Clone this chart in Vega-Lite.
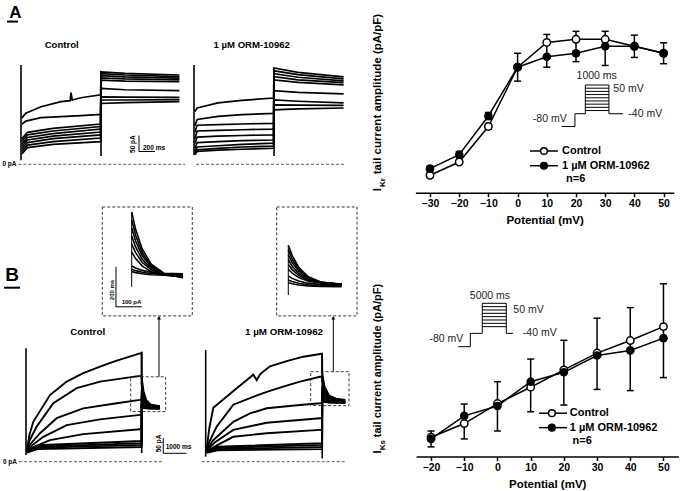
{
"$schema": "https://vega.github.io/schema/vega-lite/v6.json",
"width": 682, "height": 491, "autosize": {"type": "none"}, "padding": 0, "background": "white",
"config": {
  "view": {"stroke": null},
  "font": "Liberation Sans",
  "axis": {"domainColor": "black", "domainWidth": 1.5, "tickColor": "black", "tickWidth": 1.5, "tickSize": 4, "labelFont": "Liberation Sans", "labelFontWeight": "bold", "labelFontSize": 10.5, "labelColor": "black", "labelPadding": 2, "labelFlush": false, "labelOverlap": false, "titleFont": "Liberation Sans", "titleFontWeight": "bold", "titleFontSize": 11.5, "titleColor": "black", "titlePadding": 4, "grid": false}
},
"resolve": {"scale": {"x": "independent", "y": "independent"}},
"datasets": {
  "ptsA": [
    {"x": -30, "y": 0.05, "g": "c"}, {"x": -20, "y": 0.088, "g": "c"}, {"x": -10, "y": 0.19, "g": "c"}, {"x": 0, "y": 0.36, "g": "c"}, {"x": 10, "y": 0.431, "g": "c"}, {"x": 20, "y": 0.44, "g": "c"}, {"x": 30, "y": 0.44, "g": "c"}, {"x": 40, "y": 0.42, "g": "c"}, {"x": 50, "y": 0.40, "g": "c"},
    {"x": -30, "y": 0.069, "g": "o"}, {"x": -20, "y": 0.109, "g": "o"}, {"x": -10, "y": 0.22, "g": "o"}, {"x": 0, "y": 0.36, "g": "o"}, {"x": 10, "y": 0.39, "g": "o"}, {"x": 20, "y": 0.40, "g": "o"}, {"x": 30, "y": 0.42, "g": "o"}, {"x": 40, "y": 0.42, "g": "o"}, {"x": 50, "y": 0.40, "g": "o"}
  ],
  "errA": [
    {"x": -30, "y": 0.045, "y2": 0.055}, {"x": -30, "y": 0.062, "y2": 0.076}, {"x": -20, "y": 0.083, "y2": 0.093}, {"x": -20, "y": 0.1, "y2": 0.118}, {"x": -10, "y": 0.182, "y2": 0.198}, {"x": -10, "y": 0.21, "y2": 0.23}, {"x": 0, "y": 0.32, "y2": 0.40}, {"x": 10, "y": 0.36, "y2": 0.454}, {"x": 20, "y": 0.376, "y2": 0.463}, {"x": 30, "y": 0.365, "y2": 0.463}, {"x": 40, "y": 0.388, "y2": 0.452}, {"x": 50, "y": 0.37, "y2": 0.43}
  ],
  "ptsB": [
    {"x": -20, "y": 0.08, "g": "c"}, {"x": -10, "y": 0.137, "g": "c"}, {"x": 0, "y": 0.22, "g": "c"}, {"x": 10, "y": 0.288, "g": "c"}, {"x": 20, "y": 0.36, "g": "c"}, {"x": 30, "y": 0.43, "g": "c"}, {"x": 40, "y": 0.482, "g": "c"}, {"x": 50, "y": 0.54, "g": "c"},
    {"x": -20, "y": 0.073, "g": "o"}, {"x": -10, "y": 0.169, "g": "o"}, {"x": 0, "y": 0.21, "g": "o"}, {"x": 10, "y": 0.311, "g": "o"}, {"x": 20, "y": 0.35, "g": "o"}, {"x": 30, "y": 0.42, "g": "o"}, {"x": 40, "y": 0.441, "g": "o"}, {"x": 50, "y": 0.492, "g": "o"}
  ],
  "errB": [
    {"x": -20, "y": 0.04, "y2": 0.106}, {"x": -10, "y": 0.073, "y2": 0.218}, {"x": 0, "y": 0.106, "y2": 0.311}, {"x": 10, "y": 0.186, "y2": 0.405}, {"x": 20, "y": 0.214, "y2": 0.483}, {"x": 30, "y": 0.279, "y2": 0.575}, {"x": 40, "y": 0.274, "y2": 0.619}, {"x": 50, "y": 0.328, "y2": 0.718}
  ],
  "trAc": [
    {"s": 1, "t": 10, "i": 145}, {"s": 1, "t": 60, "i": 160}, {"s": 1, "t": 250, "i": 180}, {"s": 1, "t": 500, "i": 196}, {"s": 1, "t": 615, "i": 199}, {"s": 1, "t": 625, "i": 224}, {"s": 1, "t": 640, "i": 201}, {"s": 1, "t": 750, "i": 208}, {"s": 1, "t": 995, "i": 217}, {"s": 1, "t": 1000, "i": 289}, {"s": 1, "t": 1300, "i": 284}, {"s": 1, "t": 1980, "i": 279},
    {"s": 2, "t": 10, "i": 125}, {"s": 2, "t": 60, "i": 135}, {"s": 2, "t": 250, "i": 146}, {"s": 2, "t": 500, "i": 149}, {"s": 2, "t": 750, "i": 152}, {"s": 2, "t": 995, "i": 156}, {"s": 2, "t": 1000, "i": 283}, {"s": 2, "t": 1300, "i": 279}, {"s": 2, "t": 1980, "i": 274},
    {"s": 3, "t": 10, "i": 80}, {"s": 3, "t": 80, "i": 100}, {"s": 3, "t": 400, "i": 112}, {"s": 3, "t": 995, "i": 126}, {"s": 3, "t": 1000, "i": 277}, {"s": 3, "t": 1300, "i": 273}, {"s": 3, "t": 1980, "i": 269},
    {"s": 4, "t": 10, "i": 72}, {"s": 4, "t": 80, "i": 92}, {"s": 4, "t": 400, "i": 104}, {"s": 4, "t": 995, "i": 118}, {"s": 4, "t": 1000, "i": 270}, {"s": 4, "t": 1300, "i": 267}, {"s": 4, "t": 1980, "i": 264},
    {"s": 5, "t": 10, "i": 64}, {"s": 5, "t": 80, "i": 84}, {"s": 5, "t": 400, "i": 96}, {"s": 5, "t": 995, "i": 110}, {"s": 5, "t": 1000, "i": 263}, {"s": 5, "t": 1300, "i": 260}, {"s": 5, "t": 1980, "i": 258},
    {"s": 6, "t": 10, "i": 56}, {"s": 6, "t": 80, "i": 76}, {"s": 6, "t": 400, "i": 88}, {"s": 6, "t": 995, "i": 101}, {"s": 6, "t": 1000, "i": 237}, {"s": 6, "t": 1300, "i": 233}, {"s": 6, "t": 1980, "i": 230},
    {"s": 7, "t": 10, "i": 48}, {"s": 7, "t": 80, "i": 68}, {"s": 7, "t": 400, "i": 80}, {"s": 7, "t": 995, "i": 92}, {"s": 7, "t": 1000, "i": 211}, {"s": 7, "t": 1300, "i": 210}, {"s": 7, "t": 1980, "i": 209},
    {"s": 8, "t": 10, "i": 40}, {"s": 8, "t": 80, "i": 60}, {"s": 8, "t": 400, "i": 71}, {"s": 8, "t": 995, "i": 82}, {"s": 8, "t": 1000, "i": 201}, {"s": 8, "t": 1300, "i": 201}, {"s": 8, "t": 1980, "i": 202},
    {"s": 9, "t": 10, "i": 32}, {"s": 9, "t": 80, "i": 52}, {"s": 9, "t": 400, "i": 62}, {"s": 9, "t": 995, "i": 71}, {"s": 9, "t": 1000, "i": 190}, {"s": 9, "t": 1300, "i": 193}, {"s": 9, "t": 1980, "i": 196}
  ],
  "trAo": [
    {"s": 1, "t": 10, "i": 165}, {"s": 1, "t": 40, "i": 176}, {"s": 1, "t": 300, "i": 192}, {"s": 1, "t": 600, "i": 200}, {"s": 1, "t": 995, "i": 207}, {"s": 1, "t": 1000, "i": 301}, {"s": 1, "t": 1300, "i": 287}, {"s": 1, "t": 1870, "i": 273},
    {"s": 2, "t": 10, "i": 120}, {"s": 2, "t": 40, "i": 140}, {"s": 2, "t": 300, "i": 150}, {"s": 2, "t": 600, "i": 155}, {"s": 2, "t": 995, "i": 159}, {"s": 2, "t": 1000, "i": 292}, {"s": 2, "t": 1300, "i": 280}, {"s": 2, "t": 1870, "i": 267},
    {"s": 3, "t": 10, "i": 100}, {"s": 3, "t": 40, "i": 122}, {"s": 3, "t": 300, "i": 124}, {"s": 3, "t": 600, "i": 126}, {"s": 3, "t": 995, "i": 128}, {"s": 3, "t": 1000, "i": 283}, {"s": 3, "t": 1300, "i": 272}, {"s": 3, "t": 1870, "i": 261},
    {"s": 4, "t": 10, "i": 80}, {"s": 4, "t": 40, "i": 104}, {"s": 4, "t": 300, "i": 106}, {"s": 4, "t": 600, "i": 108}, {"s": 4, "t": 995, "i": 110}, {"s": 4, "t": 1000, "i": 274}, {"s": 4, "t": 1300, "i": 264}, {"s": 4, "t": 1870, "i": 255},
    {"s": 5, "t": 10, "i": 65}, {"s": 5, "t": 40, "i": 85}, {"s": 5, "t": 300, "i": 88}, {"s": 5, "t": 600, "i": 90}, {"s": 5, "t": 995, "i": 92}, {"s": 5, "t": 1000, "i": 264}, {"s": 5, "t": 1300, "i": 256}, {"s": 5, "t": 1870, "i": 248},
    {"s": 6, "t": 10, "i": 50}, {"s": 6, "t": 40, "i": 68}, {"s": 6, "t": 300, "i": 71}, {"s": 6, "t": 600, "i": 74}, {"s": 6, "t": 995, "i": 76}, {"s": 6, "t": 1000, "i": 230}, {"s": 6, "t": 1300, "i": 225}, {"s": 6, "t": 1870, "i": 220},
    {"s": 7, "t": 10, "i": 40}, {"s": 7, "t": 40, "i": 54}, {"s": 7, "t": 300, "i": 58}, {"s": 7, "t": 600, "i": 62}, {"s": 7, "t": 995, "i": 66}, {"s": 7, "t": 1000, "i": 201}, {"s": 7, "t": 1300, "i": 197}, {"s": 7, "t": 1870, "i": 192},
    {"s": 8, "t": 10, "i": 35}, {"s": 8, "t": 40, "i": 45}, {"s": 8, "t": 300, "i": 50}, {"s": 8, "t": 600, "i": 54}, {"s": 8, "t": 995, "i": 57}, {"s": 8, "t": 1000, "i": 186}, {"s": 8, "t": 1300, "i": 185}, {"s": 8, "t": 1870, "i": 184},
    {"s": 9, "t": 10, "i": 30}, {"s": 9, "t": 40, "i": 40}, {"s": 9, "t": 300, "i": 44}, {"s": 9, "t": 600, "i": 47}, {"s": 9, "t": 995, "i": 50}, {"s": 9, "t": 1000, "i": 170}, {"s": 9, "t": 1300, "i": 173}, {"s": 9, "t": 1870, "i": 176}
  ],
  "trBc": [
    {"s": 1, "t": 43, "i": 40}, {"s": 1, "t": 150, "i": 90}, {"s": 1, "t": 315, "i": 133}, {"s": 1, "t": 1037, "i": 222}, {"s": 1, "t": 1759, "i": 267}, {"s": 1, "t": 2476, "i": 295}, {"s": 1, "t": 3198, "i": 317}, {"s": 1, "t": 3920, "i": 337}, {"s": 1, "t": 4926, "i": 361}, {"s": 1, "t": 4995, "i": 362}, {"s": 1, "t": 5000, "i": 279}, {"s": 1, "t": 5080, "i": 235}, {"s": 1, "t": 5200, "i": 205}, {"s": 1, "t": 5400, "i": 190}, {"s": 1, "t": 5790, "i": 185},
    {"s": 2, "t": 43, "i": 38}, {"s": 2, "t": 150, "i": 70}, {"s": 2, "t": 462, "i": 117}, {"s": 2, "t": 1180, "i": 195}, {"s": 2, "t": 2191, "i": 245}, {"s": 2, "t": 3198, "i": 267}, {"s": 2, "t": 4926, "i": 286}, {"s": 2, "t": 4995, "i": 287}, {"s": 2, "t": 5000, "i": 255}, {"s": 2, "t": 5080, "i": 222}, {"s": 2, "t": 5200, "i": 200}, {"s": 2, "t": 5400, "i": 188}, {"s": 2, "t": 5790, "i": 183},
    {"s": 3, "t": 43, "i": 36}, {"s": 3, "t": 150, "i": 55}, {"s": 3, "t": 605, "i": 95}, {"s": 3, "t": 1325, "i": 145}, {"s": 3, "t": 2476, "i": 178}, {"s": 3, "t": 3920, "i": 195}, {"s": 3, "t": 4926, "i": 206}, {"s": 3, "t": 4995, "i": 207}, {"s": 3, "t": 5000, "i": 235}, {"s": 3, "t": 5080, "i": 212}, {"s": 3, "t": 5200, "i": 196}, {"s": 3, "t": 5400, "i": 186}, {"s": 3, "t": 5790, "i": 182},
    {"s": 4, "t": 43, "i": 35}, {"s": 4, "t": 150, "i": 48}, {"s": 4, "t": 748, "i": 83}, {"s": 4, "t": 1759, "i": 122}, {"s": 4, "t": 3198, "i": 141}, {"s": 4, "t": 4926, "i": 156}, {"s": 4, "t": 4995, "i": 156}, {"s": 4, "t": 5000, "i": 220}, {"s": 4, "t": 5080, "i": 204}, {"s": 4, "t": 5200, "i": 192}, {"s": 4, "t": 5400, "i": 185}, {"s": 4, "t": 5790, "i": 181},
    {"s": 5, "t": 43, "i": 34}, {"s": 5, "t": 200, "i": 45}, {"s": 5, "t": 1037, "i": 72}, {"s": 5, "t": 2476, "i": 92}, {"s": 5, "t": 4926, "i": 108}, {"s": 5, "t": 4995, "i": 108}, {"s": 5, "t": 5000, "i": 205}, {"s": 5, "t": 5100, "i": 195}, {"s": 5, "t": 5300, "i": 186}, {"s": 5, "t": 5790, "i": 180},
    {"s": 6, "t": 43, "i": 33}, {"s": 6, "t": 500, "i": 55}, {"s": 6, "t": 4995, "i": 69}, {"s": 6, "t": 5000, "i": 195}, {"s": 6, "t": 5100, "i": 188}, {"s": 6, "t": 5300, "i": 182}, {"s": 6, "t": 5790, "i": 179},
    {"s": 7, "t": 43, "i": 32}, {"s": 7, "t": 500, "i": 50}, {"s": 7, "t": 4995, "i": 62}, {"s": 7, "t": 5000, "i": 190}, {"s": 7, "t": 5100, "i": 184}, {"s": 7, "t": 5300, "i": 180}, {"s": 7, "t": 5790, "i": 178},
    {"s": 8, "t": 43, "i": 31}, {"s": 8, "t": 500, "i": 46}, {"s": 8, "t": 4995, "i": 56}, {"s": 8, "t": 5000, "i": 186}, {"s": 8, "t": 5100, "i": 181}, {"s": 8, "t": 5300, "i": 178}, {"s": 8, "t": 5790, "i": 177},
    {"s": 9, "t": 43, "i": 30}, {"s": 9, "t": 500, "i": 42}, {"s": 9, "t": 4995, "i": 49}, {"s": 9, "t": 5000, "i": 183}, {"s": 9, "t": 5100, "i": 179}, {"s": 9, "t": 5300, "i": 177}, {"s": 9, "t": 5790, "i": 176}
  ],
  "trBo": [
    {"s": 1, "t": 43, "i": 40}, {"s": 1, "t": 150, "i": 110}, {"s": 1, "t": 326, "i": 180}, {"s": 1, "t": 1330, "i": 245}, {"s": 1, "t": 2043, "i": 290}, {"s": 1, "t": 2190, "i": 272}, {"s": 1, "t": 2350, "i": 293}, {"s": 1, "t": 2760, "i": 318}, {"s": 1, "t": 3476, "i": 335}, {"s": 1, "t": 4189, "i": 350}, {"s": 1, "t": 4979, "i": 360}, {"s": 1, "t": 4995, "i": 360}, {"s": 1, "t": 5000, "i": 295}, {"s": 1, "t": 5100, "i": 250}, {"s": 1, "t": 5300, "i": 220}, {"s": 1, "t": 5600, "i": 210}, {"s": 1, "t": 5990, "i": 206},
    {"s": 2, "t": 43, "i": 38}, {"s": 2, "t": 150, "i": 65}, {"s": 2, "t": 472, "i": 117}, {"s": 2, "t": 1185, "i": 190}, {"s": 2, "t": 1901, "i": 212}, {"s": 2, "t": 2618, "i": 233}, {"s": 2, "t": 3330, "i": 250}, {"s": 2, "t": 4047, "i": 267}, {"s": 2, "t": 4906, "i": 283}, {"s": 2, "t": 4995, "i": 284}, {"s": 2, "t": 5000, "i": 270}, {"s": 2, "t": 5100, "i": 238}, {"s": 2, "t": 5300, "i": 215}, {"s": 2, "t": 5600, "i": 206}, {"s": 2, "t": 5990, "i": 204},
    {"s": 3, "t": 43, "i": 36}, {"s": 3, "t": 300, "i": 70}, {"s": 3, "t": 1185, "i": 133}, {"s": 3, "t": 1901, "i": 161}, {"s": 3, "t": 2618, "i": 178}, {"s": 3, "t": 4047, "i": 189}, {"s": 3, "t": 4906, "i": 195}, {"s": 3, "t": 4995, "i": 196}, {"s": 3, "t": 5000, "i": 250}, {"s": 3, "t": 5100, "i": 228}, {"s": 3, "t": 5300, "i": 210}, {"s": 3, "t": 5600, "i": 203}, {"s": 3, "t": 5990, "i": 202},
    {"s": 4, "t": 43, "i": 35}, {"s": 4, "t": 400, "i": 65}, {"s": 4, "t": 1185, "i": 106}, {"s": 4, "t": 2618, "i": 130}, {"s": 4, "t": 4906, "i": 145}, {"s": 4, "t": 4995, "i": 145}, {"s": 4, "t": 5000, "i": 235}, {"s": 4, "t": 5100, "i": 220}, {"s": 4, "t": 5300, "i": 206}, {"s": 4, "t": 5600, "i": 201}, {"s": 4, "t": 5990, "i": 200},
    {"s": 5, "t": 43, "i": 34}, {"s": 5, "t": 500, "i": 55}, {"s": 5, "t": 1185, "i": 83}, {"s": 5, "t": 2618, "i": 95}, {"s": 5, "t": 4906, "i": 106}, {"s": 5, "t": 4995, "i": 106}, {"s": 5, "t": 5000, "i": 222}, {"s": 5, "t": 5100, "i": 212}, {"s": 5, "t": 5300, "i": 203}, {"s": 5, "t": 5990, "i": 199},
    {"s": 6, "t": 43, "i": 33}, {"s": 6, "t": 500, "i": 50}, {"s": 6, "t": 4995, "i": 62}, {"s": 6, "t": 5000, "i": 212}, {"s": 6, "t": 5100, "i": 205}, {"s": 6, "t": 5300, "i": 200}, {"s": 6, "t": 5990, "i": 198},
    {"s": 7, "t": 43, "i": 32}, {"s": 7, "t": 500, "i": 46}, {"s": 7, "t": 4995, "i": 56}, {"s": 7, "t": 5000, "i": 208}, {"s": 7, "t": 5100, "i": 202}, {"s": 7, "t": 5300, "i": 199}, {"s": 7, "t": 5990, "i": 197},
    {"s": 8, "t": 43, "i": 31}, {"s": 8, "t": 500, "i": 42}, {"s": 8, "t": 4995, "i": 49}, {"s": 8, "t": 5000, "i": 205}, {"s": 8, "t": 5100, "i": 200}, {"s": 8, "t": 5300, "i": 198}, {"s": 8, "t": 5990, "i": 196},
    {"s": 9, "t": 43, "i": 30}, {"s": 9, "t": 500, "i": 38}, {"s": 9, "t": 4995, "i": 42}, {"s": 9, "t": 5000, "i": 203}, {"s": 9, "t": 5100, "i": 199}, {"s": 9, "t": 5300, "i": 197}, {"s": 9, "t": 5990, "i": 196}
  ],
  "inC": [
    {"s": 1, "t": 0, "i": 195}, {"s": 1, "t": 30, "i": 151.6}, {"s": 1, "t": 80, "i": 103.2}, {"s": 1, "t": 150, "i": 64.7}, {"s": 1, "t": 250, "i": 41.4}, {"s": 1, "t": 395, "i": 31.3},
    {"s": 2, "t": 0, "i": 175}, {"s": 2, "t": 30, "i": 136.8}, {"s": 2, "t": 80, "i": 94.2}, {"s": 2, "t": 150, "i": 60.3}, {"s": 2, "t": 250, "i": 39.8}, {"s": 2, "t": 395, "i": 30.9},
    {"s": 3, "t": 0, "i": 155}, {"s": 3, "t": 30, "i": 122.5}, {"s": 3, "t": 80, "i": 86.3}, {"s": 3, "t": 150, "i": 57.5}, {"s": 3, "t": 250, "i": 40}, {"s": 3, "t": 395, "i": 32.5},
    {"s": 4, "t": 0, "i": 135}, {"s": 4, "t": 30, "i": 107.7}, {"s": 4, "t": 80, "i": 77.3}, {"s": 4, "t": 150, "i": 53.1}, {"s": 4, "t": 250, "i": 38.4}, {"s": 4, "t": 395, "i": 32.1},
    {"s": 5, "t": 0, "i": 115}, {"s": 5, "t": 30, "i": 93.4}, {"s": 5, "t": 80, "i": 69.4}, {"s": 5, "t": 150, "i": 50.3}, {"s": 5, "t": 250, "i": 38.6}, {"s": 5, "t": 395, "i": 33.7},
    {"s": 6, "t": 0, "i": 95}, {"s": 6, "t": 30, "i": 78.6}, {"s": 6, "t": 80, "i": 60.4}, {"s": 6, "t": 150, "i": 45.9}, {"s": 6, "t": 250, "i": 37}, {"s": 6, "t": 395, "i": 33.3},
    {"s": 7, "t": 0, "i": 60}, {"s": 7, "t": 30, "i": 54.8}, {"s": 7, "t": 80, "i": 49}, {"s": 7, "t": 150, "i": 44.4}, {"s": 7, "t": 250, "i": 41.6}, {"s": 7, "t": 395, "i": 40.4},
    {"s": 8, "t": 0, "i": 52}, {"s": 8, "t": 30, "i": 48.4}, {"s": 8, "t": 80, "i": 44.3}, {"s": 8, "t": 150, "i": 41.1}, {"s": 8, "t": 250, "i": 39.1}, {"s": 8, "t": 395, "i": 38.3},
    {"s": 9, "t": 0, "i": 46}, {"s": 9, "t": 30, "i": 43.4}, {"s": 9, "t": 80, "i": 40.5}, {"s": 9, "t": 150, "i": 38.2}, {"s": 9, "t": 250, "i": 36.8}, {"s": 9, "t": 395, "i": 36.2}
  ],
  "inO": [
    {"s": 1, "t": 0, "i": 112}, {"s": 1, "t": 30, "i": 86}, {"s": 1, "t": 80, "i": 57}, {"s": 1, "t": 150, "i": 34}, {"s": 1, "t": 250, "i": 20}, {"s": 1, "t": 410, "i": 14},
    {"s": 2, "t": 0, "i": 100}, {"s": 2, "t": 30, "i": 77.1}, {"s": 2, "t": 80, "i": 51.6}, {"s": 2, "t": 150, "i": 31.4}, {"s": 2, "t": 250, "i": 19}, {"s": 2, "t": 410, "i": 13.8},
    {"s": 3, "t": 0, "i": 88}, {"s": 3, "t": 30, "i": 68.5}, {"s": 3, "t": 80, "i": 46.8}, {"s": 3, "t": 150, "i": 29.5}, {"s": 3, "t": 250, "i": 19}, {"s": 3, "t": 410, "i": 14.5},
    {"s": 4, "t": 0, "i": 76}, {"s": 4, "t": 30, "i": 59.6}, {"s": 4, "t": 80, "i": 41.4}, {"s": 4, "t": 150, "i": 26.9}, {"s": 4, "t": 250, "i": 18}, {"s": 4, "t": 410, "i": 14.3},
    {"s": 5, "t": 0, "i": 64}, {"s": 5, "t": 30, "i": 51}, {"s": 5, "t": 80, "i": 36.5}, {"s": 5, "t": 150, "i": 25}, {"s": 5, "t": 250, "i": 18}, {"s": 5, "t": 410, "i": 15},
    {"s": 6, "t": 0, "i": 52}, {"s": 6, "t": 30, "i": 42.1}, {"s": 6, "t": 80, "i": 31.1}, {"s": 6, "t": 150, "i": 22.4}, {"s": 6, "t": 250, "i": 17}, {"s": 6, "t": 410, "i": 14.8},
    {"s": 7, "t": 0, "i": 35}, {"s": 7, "t": 30, "i": 29}, {"s": 7, "t": 80, "i": 22.4}, {"s": 7, "t": 150, "i": 17.1}, {"s": 7, "t": 250, "i": 13.8}, {"s": 7, "t": 410, "i": 12.5},
    {"s": 8, "t": 0, "i": 25}, {"s": 8, "t": 30, "i": 21.1}, {"s": 8, "t": 80, "i": 16.8}, {"s": 8, "t": 150, "i": 13.3}, {"s": 8, "t": 250, "i": 11.2}, {"s": 8, "t": 410, "i": 10.3},
    {"s": 9, "t": 0, "i": 18}, {"s": 9, "t": 30, "i": 15.4}, {"s": 9, "t": 80, "i": 12.5}, {"s": 9, "t": 150, "i": 10.2}, {"s": 9, "t": 250, "i": 8.8}, {"s": 9, "t": 410, "i": 8.2}
  ]
},
"layer": [
  {
    "encoding": {
      "x": {"field": "x", "type": "quantitative", "scale": {"domain": [-35, 53.5], "range": [415.4, 673.8], "nice": false, "zero": false}, "axis": {"orient": "bottom", "offset": -298.3, "values": [-30, -20, -10, 0, 10, 20, 30, 40, 50], "title": "Potential (mV)", "titlePadding": 5}},
      "y": {"field": "y", "type": "quantitative", "scale": {"domain": [0, 0.5], "range": [192.7, 18.4], "nice": false, "zero": false}, "axis": {"orient": "left", "offset": -415.4, "values": [0, 0.1, 0.2, 0.3, 0.4, 0.5], "format": ".1f", "title": null}}
    },
    "layer": [
      {"data": {"name": "ptsA"}, "mark": {"type": "line", "color": "black", "strokeWidth": 1.5}, "encoding": {"detail": {"field": "g"}}},
      {"data": {"name": "errA"}, "mark": {"type": "rule", "color": "black", "strokeWidth": 1.5}, "encoding": {"y2": {"field": "y2"}}},
      {"data": {"name": "errA"}, "mark": {"type": "tick", "orient": "horizontal", "color": "black", "size": 7, "thickness": 1.5, "opacity": 1}},
      {"data": {"name": "errA"}, "mark": {"type": "tick", "orient": "horizontal", "color": "black", "size": 7, "thickness": 1.5, "opacity": 1}, "encoding": {"y": {"field": "y2", "type": "quantitative", "scale": {"domain": [0, 0.5], "range": [192.7, 18.4], "nice": false, "zero": false}, "axis": null}}},
      {"data": {"name": "ptsA"}, "transform": [{"filter": "datum.g == 'c'"}], "mark": {"type": "point", "shape": "circle", "filled": true, "fill": "white", "stroke": "black", "strokeWidth": 1.5, "size": 55, "opacity": 1}},
      {"data": {"name": "ptsA"}, "transform": [{"filter": "datum.g == 'o'"}], "mark": {"type": "point", "shape": "circle", "filled": true, "color": "black", "size": 75, "opacity": 1}},
      {"data": {"values": [{"x": 4.25, "y": 0.1196, "g": "c"}, {"x": 13.8, "y": 0.1196, "g": "c"}, {"x": 4.25, "y": 0.0774, "g": "o"}, {"x": 13.8, "y": 0.0774, "g": "o"}]}, "mark": {"type": "line", "color": "black", "strokeWidth": 1.5}, "encoding": {"detail": {"field": "g"}}},
      {"data": {"values": [{"x": 9.04, "y": 0.1196}]}, "mark": {"type": "point", "shape": "circle", "filled": true, "fill": "white", "stroke": "black", "strokeWidth": 1.5, "size": 45, "opacity": 1}},
      {"data": {"values": [{"x": 9.04, "y": 0.0774}]}, "mark": {"type": "point", "shape": "circle", "filled": true, "color": "black", "size": 65, "opacity": 1}},
      {"data": {"values": [{"x": 15.2, "y": 0.1196, "label": "Control"}, {"x": 15.2, "y": 0.0774, "label": "1 µM ORM-10962"}, {"x": 16.6, "y": 0.0393, "label": "n=6"}]}, "mark": {"type": "text", "align": "left", "baseline": "middle", "fontSize": 11, "fontWeight": "bold", "color": "black"}, "encoding": {"text": {"field": "label"}}},
      {"data": {"values": [{"x": -47.7, "y": 0.004, "label": "I"}, {"x": -47.7, "y": 0.053, "label": "tail current amplitude (pA/pF)"}]}, "mark": {"type": "text", "align": "left", "baseline": "middle", "angle": 270, "fontSize": 11.5, "fontWeight": "bold", "color": "black"}, "encoding": {"text": {"field": "label"}}},
      {"data": {"values": [{"x": -46.0, "y": 0.016, "label": "Kr"}]}, "mark": {"type": "text", "align": "left", "baseline": "middle", "angle": 270, "fontSize": 8, "fontWeight": "bold", "color": "black"}, "encoding": {"text": {"field": "label"}}}
    ]
  },
  {
    "encoding": {
      "x": {"field": "x", "type": "quantitative", "scale": {"domain": [-24.5, 54.5], "range": [416.1, 678.4], "nice": false, "zero": false}, "axis": {"orient": "bottom", "offset": -34.5, "values": [-20, -10, 0, 10, 20, 30, 40, 50], "title": "Potential (mV)", "titlePadding": 5}},
      "y": {"field": "y", "type": "quantitative", "scale": {"domain": [0, 0.73], "range": [456.5, 280.9], "nice": false, "zero": false}, "axis": {"orient": "left", "offset": -416.1, "values": [0, 0.1, 0.2, 0.3, 0.4, 0.5, 0.6, 0.7], "format": ".1f", "title": null}}
    },
    "layer": [
      {"data": {"name": "ptsB"}, "mark": {"type": "line", "color": "black", "strokeWidth": 1.5}, "encoding": {"detail": {"field": "g"}}},
      {"data": {"name": "errB"}, "mark": {"type": "rule", "color": "black", "strokeWidth": 1.5}, "encoding": {"y2": {"field": "y2"}}},
      {"data": {"name": "errB"}, "mark": {"type": "tick", "orient": "horizontal", "color": "black", "size": 7, "thickness": 1.5, "opacity": 1}},
      {"data": {"name": "errB"}, "mark": {"type": "tick", "orient": "horizontal", "color": "black", "size": 7, "thickness": 1.5, "opacity": 1}, "encoding": {"y": {"field": "y2", "type": "quantitative", "scale": {"domain": [0, 0.73], "range": [456.5, 280.9], "nice": false, "zero": false}, "axis": null}}},
      {"data": {"name": "ptsB"}, "transform": [{"filter": "datum.g == 'c'"}], "mark": {"type": "point", "shape": "circle", "filled": true, "fill": "white", "stroke": "black", "strokeWidth": 1.5, "size": 55, "opacity": 1}},
      {"data": {"name": "ptsB"}, "transform": [{"filter": "datum.g == 'o'"}], "mark": {"type": "point", "shape": "circle", "filled": true, "color": "black", "size": 75, "opacity": 1}},
      {"data": {"values": [{"x": 12.5, "y": 0.18, "g": "c"}, {"x": 20.95, "y": 0.18, "g": "c"}, {"x": 12.5, "y": 0.12, "g": "o"}, {"x": 20.95, "y": 0.12, "g": "o"}]}, "mark": {"type": "line", "color": "black", "strokeWidth": 1.5}, "encoding": {"detail": {"field": "g"}}},
      {"data": {"values": [{"x": 16.4, "y": 0.18}]}, "mark": {"type": "point", "shape": "circle", "filled": true, "fill": "white", "stroke": "black", "strokeWidth": 1.5, "size": 45, "opacity": 1}},
      {"data": {"values": [{"x": 16.4, "y": 0.12}]}, "mark": {"type": "point", "shape": "circle", "filled": true, "color": "black", "size": 65, "opacity": 1}},
      {"data": {"values": [{"x": 21.8, "y": 0.18, "label": "Control"}, {"x": 21.8, "y": 0.12, "label": "1 µM ORM-10962"}, {"x": 22.6, "y": 0.064, "label": "n=6"}]}, "mark": {"type": "text", "align": "left", "baseline": "middle", "fontSize": 11, "fontWeight": "bold", "color": "black"}, "encoding": {"text": {"field": "label"}}},
      {"data": {"values": [{"x": -36.0, "y": 0.012, "label": "I"}, {"x": -36.0, "y": 0.08, "label": "tail current amplitude (pA/pF)"}]}, "mark": {"type": "text", "align": "left", "baseline": "middle", "angle": 270, "fontSize": 11, "fontWeight": "bold", "color": "black"}, "encoding": {"text": {"field": "label"}}},
      {"data": {"values": [{"x": -34.5, "y": 0.026, "label": "Ks"}]}, "mark": {"type": "text", "align": "left", "baseline": "middle", "angle": 270, "fontSize": 8, "fontWeight": "bold", "color": "black"}, "encoding": {"text": {"field": "label"}}}
    ]
  },
  {
    "encoding": {
      "x": {"field": "t", "type": "quantitative", "scale": {"domain": [0, 2600], "range": [561.7, 623.1], "nice": false, "zero": false}, "axis": null},
      "y": {"field": "i", "type": "quantitative", "scale": {"domain": [-80, 50], "range": [126.5, 85], "nice": false, "zero": false}, "axis": null}
    },
    "layer": [
      {"data": {"values": [
        {"t": 0, "t2": 560, "i": -80, "i2": -80}, {"t": 560, "t2": 560, "i": -80, "i2": -40}, {"t": 560, "t2": 1000, "i": -40, "i2": -40}, {"t": 1000, "t2": 1000, "i": -40, "i2": 50}, {"t": 2000, "t2": 2000, "i": -40, "i2": 50}, {"t": 2000, "t2": 2600, "i": -40, "i2": -40},
        {"t": 1000, "t2": 2000, "i": -30, "i2": -30}, {"t": 1000, "t2": 2000, "i": -20, "i2": -20}, {"t": 1000, "t2": 2000, "i": -10, "i2": -10}, {"t": 1000, "t2": 2000, "i": 0, "i2": 0}, {"t": 1000, "t2": 2000, "i": 10, "i2": 10}, {"t": 1000, "t2": 2000, "i": 20, "i2": 20}, {"t": 1000, "t2": 2000, "i": 30, "i2": 30}, {"t": 1000, "t2": 2000, "i": 40, "i2": 40}, {"t": 1000, "t2": 2000, "i": 50, "i2": 50}
      ]}, "mark": {"type": "rule", "color": "black", "strokeWidth": 1}, "encoding": {"x2": {"field": "t2"}, "y2": {"field": "i2"}}},
      {"data": {"values": [{"t": 1482, "i": 78, "label": "1000 ms"}]}, "mark": {"type": "text", "align": "center", "baseline": "middle", "fontSize": 10.5, "color": "#222"}, "encoding": {"text": {"field": "label"}}},
      {"data": {"values": [{"t": 2185, "i": 36.5, "label": "50 mV"}, {"t": 2820, "i": -40, "label": "-40 mV"}]}, "mark": {"type": "text", "align": "left", "baseline": "middle", "fontSize": 10.5, "color": "#222"}, "encoding": {"text": {"field": "label"}}},
      {"data": {"values": [{"t": 212, "i": -56.5, "label": "-80 mV"}]}, "mark": {"type": "text", "align": "right", "baseline": "middle", "fontSize": 10.5, "color": "#222"}, "encoding": {"text": {"field": "label"}}}
    ]
  },
  {
    "encoding": {
      "x": {"field": "t", "type": "quantitative", "scale": {"domain": [0, 11400], "range": [458.3, 513.0], "nice": false, "zero": false}, "axis": null},
      "y": {"field": "i", "type": "quantitative", "scale": {"domain": [-80, 50], "range": [346.7, 303.3], "nice": false, "zero": false}, "axis": null}
    },
    "layer": [
      {"data": {"values": [
        {"t": 0, "t2": 2500, "i": -80, "i2": -80}, {"t": 2500, "t2": 2500, "i": -80, "i2": -40}, {"t": 2500, "t2": 5000, "i": -40, "i2": -40}, {"t": 5000, "t2": 5000, "i": -40, "i2": 50}, {"t": 10000, "t2": 10000, "i": -40, "i2": 50}, {"t": 10000, "t2": 11400, "i": -40, "i2": -40},
        {"t": 5000, "t2": 10000, "i": -20, "i2": -20}, {"t": 5000, "t2": 10000, "i": -10, "i2": -10}, {"t": 5000, "t2": 10000, "i": 0, "i2": 0}, {"t": 5000, "t2": 10000, "i": 10, "i2": 10}, {"t": 5000, "t2": 10000, "i": 20, "i2": 20}, {"t": 5000, "t2": 10000, "i": 30, "i2": 30}, {"t": 5000, "t2": 10000, "i": 40, "i2": 40}, {"t": 5000, "t2": 10000, "i": 50, "i2": 50}
      ]}, "mark": {"type": "rule", "color": "black", "strokeWidth": 1}, "encoding": {"x2": {"field": "t2"}, "y2": {"field": "i2"}}},
      {"data": {"values": [{"t": 6600, "i": 72, "label": "5000 ms"}]}, "mark": {"type": "text", "align": "center", "baseline": "middle", "fontSize": 10.5, "color": "#222"}, "encoding": {"text": {"field": "label"}}},
      {"data": {"values": [{"t": 11460, "i": 30, "label": "50 mV"}, {"t": 13458, "i": -38, "label": "-40 mV"}]}, "mark": {"type": "text", "align": "left", "baseline": "middle", "fontSize": 10.5, "color": "#222"}, "encoding": {"text": {"field": "label"}}},
      {"data": {"values": [{"t": 1042, "i": -57, "label": "-80 mV"}]}, "mark": {"type": "text", "align": "right", "baseline": "middle", "fontSize": 10.5, "color": "#222"}, "encoding": {"text": {"field": "label"}}}
    ]
  },
  {
    "encoding": {
      "x": {"field": "t", "type": "quantitative", "scale": {"domain": [0, 2000], "range": [21, 181], "nice": false, "zero": false}, "axis": null},
      "y": {"field": "i", "type": "quantitative", "scale": {"domain": [0, 500], "range": [164.3, 4.3], "nice": false, "zero": false}, "axis": null}
    },
    "layer": [
      {"data": {"name": "trAc"}, "mark": {"type": "line", "color": "black", "strokeWidth": 1.7}, "encoding": {"detail": {"field": "s"}}},
      {"data": {"values": [{"t": 0, "i": 13, "i2": 310}, {"t": 1000, "i": 26, "i2": 292}]}, "mark": {"type": "rule", "color": "black", "strokeWidth": 1.6}, "encoding": {"y2": {"field": "i2"}}},
      {"data": {"values": [{"t": -34, "t2": 2050, "i": 0}]}, "mark": {"type": "rule", "color": "#333", "strokeWidth": 0.8, "strokeDash": [3, 2]}, "encoding": {"x2": {"field": "t2"}}},
      {"data": {"values": [{"t": 1475, "t2": 1475, "i": 40, "i2": 90}, {"t": 1475, "t2": 1675, "i": 40, "i2": 40}]}, "mark": {"type": "rule", "color": "black", "strokeWidth": 1}, "encoding": {"x2": {"field": "t2"}, "y2": {"field": "i2"}}},
      {"data": {"values": [{"t": -175, "t2": -37.5, "i": 446}]}, "mark": {"type": "rule", "color": "black", "strokeWidth": 2}, "encoding": {"x2": {"field": "t2"}}},
      {"data": {"values": [{"t": -69, "i": 472, "label": "A"}]}, "mark": {"type": "text", "align": "center", "baseline": "middle", "fontSize": 17, "fontWeight": "bold", "color": "black"}, "encoding": {"text": {"field": "label"}}},
      {"data": {"values": [{"t": 509, "i": 373, "label": "Control"}]}, "mark": {"type": "text", "align": "center", "baseline": "middle", "fontSize": 9.6, "fontWeight": "bold", "color": "black"}, "encoding": {"text": {"field": "label"}}},
      {"data": {"values": [{"t": -56, "i": 0, "label": "0 pA"}]}, "mark": {"type": "text", "align": "right", "baseline": "middle", "fontSize": 6.5, "fontWeight": "bold", "color": "black"}, "encoding": {"text": {"field": "label"}}},
      {"data": {"values": [{"t": 1525, "i": 52, "label": "200 ms"}]}, "mark": {"type": "text", "align": "left", "baseline": "middle", "fontSize": 6.5, "fontWeight": "bold", "color": "black"}, "encoding": {"text": {"field": "label"}}},
      {"data": {"values": [{"t": 1400, "i": 63, "label": "50 pA"}]}, "mark": {"type": "text", "align": "center", "baseline": "middle", "angle": 270, "fontSize": 6.5, "fontWeight": "bold", "color": "black"}, "encoding": {"text": {"field": "label"}}}
    ]
  },
  {
    "encoding": {
      "x": {"field": "t", "type": "quantitative", "scale": {"domain": [0, 2000], "range": [194, 354], "nice": false, "zero": false}, "axis": null},
      "y": {"field": "i", "type": "quantitative", "scale": {"domain": [0, 500], "range": [164.3, 4.3], "nice": false, "zero": false}, "axis": null}
    },
    "layer": [
      {"data": {"name": "trAo"}, "mark": {"type": "line", "color": "black", "strokeWidth": 1.7}, "encoding": {"detail": {"field": "s"}}},
      {"data": {"values": [{"t": 0, "i": 29, "i2": 310}, {"t": 1000, "i": 26, "i2": 301}]}, "mark": {"type": "rule", "color": "black", "strokeWidth": 1.6}, "encoding": {"y2": {"field": "i2"}}},
      {"data": {"values": [{"t": 25, "t2": 1890, "i": 0}]}, "mark": {"type": "rule", "color": "#333", "strokeWidth": 0.8, "strokeDash": [3, 2]}, "encoding": {"x2": {"field": "t2"}}},
      {"data": {"values": [{"t": 721, "i": 373, "label": "1 µM ORM-10962"}]}, "mark": {"type": "text", "align": "center", "baseline": "middle", "fontSize": 9.6, "fontWeight": "bold", "color": "black"}, "encoding": {"text": {"field": "label"}}}
    ]
  },
  {
    "encoding": {
      "x": {"field": "t", "type": "quantitative", "scale": {"domain": [0, 8000], "range": [26, 211.1], "nice": false, "zero": false}, "axis": null},
      "y": {"field": "i", "type": "quantitative", "scale": {"domain": [0, 1000], "range": [461.7, 161.7], "nice": false, "zero": false}, "axis": null}
    },
    "layer": [
      {"data": {"name": "trBc"}, "mark": {"type": "line", "color": "black", "strokeWidth": 1.9}, "encoding": {"detail": {"field": "s"}}},
      {"data": {"values": [{"t": 0, "i": 22, "i2": 378}, {"t": 5000, "i": 29, "i2": 367}]}, "mark": {"type": "rule", "color": "black", "strokeWidth": 1.6}, "encoding": {"y2": {"field": "i2"}}},
      {"data": {"values": [{"t": -302, "t2": 5920, "i": 0}]}, "mark": {"type": "rule", "color": "#333", "strokeWidth": 0.8, "strokeDash": [3, 2]}, "encoding": {"x2": {"field": "t2"}}},
      {"data": {"values": [{"t": 5933, "t2": 5933, "i": 28, "i2": 78}, {"t": 5933, "t2": 6933, "i": 28, "i2": 28}, {"t": 5748, "t2": 5748, "i": 283, "i2": 478}]}, "mark": {"type": "rule", "color": "black", "strokeWidth": 1}, "encoding": {"x2": {"field": "t2"}, "y2": {"field": "i2"}}},
      {"data": {"values": [{"t": 5748, "i": 480}]}, "mark": {"type": "point", "shape": "triangle-up", "filled": true, "color": "black", "size": 16, "opacity": 1}},
      {"data": {"values": [{"t": 4525, "t2": 6037, "i": 167, "i2": 283}, {"t": 3297, "t2": 7187, "i": 486, "i2": 849}]}, "mark": {"type": "rect", "filled": false, "stroke": "#222", "strokeWidth": 0.9, "strokeDash": [3, 2]}, "encoding": {"x2": {"field": "t2"}, "y2": {"field": "i2"}}},
      {"data": {"values": [{"t": -951, "t2": -259, "i": 580}]}, "mark": {"type": "rule", "color": "black", "strokeWidth": 2}, "encoding": {"x2": {"field": "t2"}}},
      {"data": {"values": [{"t": -605, "i": 622, "label": "B"}]}, "mark": {"type": "text", "align": "center", "baseline": "middle", "fontSize": 19, "fontWeight": "bold", "color": "black"}, "encoding": {"text": {"field": "label"}}},
      {"data": {"values": [{"t": 2666, "i": 433, "label": "Control"}]}, "mark": {"type": "text", "align": "center", "baseline": "middle", "fontSize": 9.8, "fontWeight": "bold", "color": "black"}, "encoding": {"text": {"field": "label"}}},
      {"data": {"values": [{"t": -389, "i": 0, "label": "0 pA"}]}, "mark": {"type": "text", "align": "right", "baseline": "middle", "fontSize": 6.5, "fontWeight": "bold", "color": "black"}, "encoding": {"text": {"field": "label"}}},
      {"data": {"values": [{"t": 6037, "i": 48, "label": "1000 ms"}]}, "mark": {"type": "text", "align": "left", "baseline": "middle", "fontSize": 6.5, "fontWeight": "bold", "color": "black"}, "encoding": {"text": {"field": "label"}}},
      {"data": {"values": [{"t": 5761, "i": 61, "label": "50 pA"}]}, "mark": {"type": "text", "align": "center", "baseline": "middle", "angle": 270, "fontSize": 6.5, "fontWeight": "bold", "color": "black"}, "encoding": {"text": {"field": "label"}}}
    ]
  },
  {
    "encoding": {
      "x": {"field": "t", "type": "quantitative", "scale": {"domain": [0, 8000], "range": [205.7, 392.1], "nice": false, "zero": false}, "axis": null},
      "y": {"field": "i", "type": "quantitative", "scale": {"domain": [0, 1000], "range": [461.7, 161.7], "nice": false, "zero": false}, "axis": null}
    },
    "layer": [
      {"data": {"name": "trBo"}, "mark": {"type": "line", "color": "black", "strokeWidth": 1.9}, "encoding": {"detail": {"field": "s"}}},
      {"data": {"values": [{"t": 0, "i": 17, "i2": 372}, {"t": 5000, "i": 11, "i2": 361}]}, "mark": {"type": "rule", "color": "black", "strokeWidth": 1.6}, "encoding": {"y2": {"field": "i2"}}},
      {"data": {"values": [{"t": -172, "t2": 5990, "i": 0}]}, "mark": {"type": "rule", "color": "#333", "strokeWidth": 0.8, "strokeDash": [3, 2]}, "encoding": {"x2": {"field": "t2"}}},
      {"data": {"values": [{"t": 5476, "t2": 5476, "i": 300, "i2": 478}]}, "mark": {"type": "rule", "color": "black", "strokeWidth": 1}, "encoding": {"x2": {"field": "t2"}, "y2": {"field": "i2"}}},
      {"data": {"values": [{"t": 5476, "i": 480}]}, "mark": {"type": "point", "shape": "triangle-up", "filled": true, "color": "black", "size": 16, "opacity": 1}},
      {"data": {"values": [{"t": 4506, "t2": 6150, "i": 187, "i2": 300}, {"t": 3047, "t2": 6494, "i": 486, "i2": 849}]}, "mark": {"type": "rect", "filled": false, "stroke": "#222", "strokeWidth": 0.9, "strokeDash": [3, 2]}, "encoding": {"x2": {"field": "t2"}, "y2": {"field": "i2"}}},
      {"data": {"values": [{"t": 3361, "i": 433, "label": "1 µM ORM-10962"}]}, "mark": {"type": "text", "align": "center", "baseline": "middle", "fontSize": 9.8, "fontWeight": "bold", "color": "black"}, "encoding": {"text": {"field": "label"}}}
    ]
  },
  {
    "encoding": {
      "x": {"field": "t", "type": "quantitative", "scale": {"domain": [0, 500], "range": [131.7, 196.7], "nice": false, "zero": false}, "axis": null},
      "y": {"field": "i", "type": "quantitative", "scale": {"domain": [0, 250], "range": [290, 190], "nice": false, "zero": false}, "axis": null}
    },
    "layer": [
      {"data": {"name": "inC"}, "mark": {"type": "line", "color": "black", "strokeWidth": 1.6}, "encoding": {"detail": {"field": "s"}}},
      {"data": {"values": [{"t": 0, "t2": 0, "i": 8, "i2": 195}, {"t": -121, "t2": -121, "i": -42, "i2": 58}, {"t": -121, "t2": 77, "i": -42, "i2": -42}]}, "mark": {"type": "rule", "color": "black", "strokeWidth": 1}, "encoding": {"x2": {"field": "t2"}, "y2": {"field": "i2"}}},
      {"data": {"values": [{"t": -154, "i": 0, "label": "200 ms"}]}, "mark": {"type": "text", "align": "center", "baseline": "middle", "angle": 270, "fontSize": 6, "fontWeight": "bold", "color": "black"}, "encoding": {"text": {"field": "label"}}},
      {"data": {"values": [{"t": -77, "i": -31, "label": "100 pA"}]}, "mark": {"type": "text", "align": "left", "baseline": "middle", "fontSize": 6, "fontWeight": "bold", "color": "black"}, "encoding": {"text": {"field": "label"}}}
    ]
  },
  {
    "encoding": {
      "x": {"field": "t", "type": "quantitative", "scale": {"domain": [0, 500], "range": [288.3, 353.3], "nice": false, "zero": false}, "axis": null},
      "y": {"field": "i", "type": "quantitative", "scale": {"domain": [0, 250], "range": [290, 190], "nice": false, "zero": false}, "axis": null}
    },
    "layer": [
      {"data": {"name": "inO"}, "mark": {"type": "line", "color": "black", "strokeWidth": 1.6}, "encoding": {"detail": {"field": "s"}}},
      {"data": {"values": [{"t": 0, "i": -12.5, "i2": 112}]}, "mark": {"type": "rule", "color": "black", "strokeWidth": 1}, "encoding": {"y2": {"field": "i2"}}}
    ]
  }
]
}
